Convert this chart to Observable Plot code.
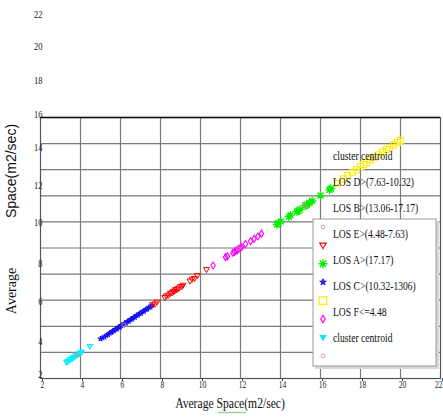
<!DOCTYPE html>
<html><head><meta charset="utf-8">
<script src="https://cdn.jsdelivr.net/npm/d3@7"></script>
<script src="https://cdn.jsdelivr.net/npm/@observablehq/plot@0.6"></script>
<style>
body{margin:0;background:#fff}
#chart{position:relative;width:443px;height:418px}
</style>
</head><body><div id="chart"></div>
<script>
// ---- data ----
const xDomain = [2, 22];
const yDomain = [2, 22];
const xTicks = [2, 4, 6, 8, 10, 12, 14, 16, 18, 20];
const xLastTick = [22];
const gridTicks = [4, 6, 8, 10, 12, 14, 16, 18, 20];
const yTickLabels = ["22", "20", "18", "16", "14", "12", "10", "8", "6", "4", "2"];
const yTickAt = [29.89, 27.44, 24.84, 22.23, 19.70, 16.79, 13.95, 10.81, 7.90, 4.84, 2.31];

const cyanX = [3.3, 3.35, 3.42, 3.48, 3.55, 3.6, 3.65, 3.7, 3.76, 3.82, 3.88, 3.94, 4.0, 4.06, 4.47];
const cyanY = [3.24, 3.3, 3.36, 3.44, 3.5, 3.56, 3.6, 3.66, 3.72, 3.78, 3.84, 3.9, 3.96, 4.02, 4.46];
const blueX = [5.0, 5.1, 5.2, 5.3, 5.38, 5.46, 5.54, 5.6, 5.68, 5.75, 5.82, 5.9, 5.97, 6.04, 6.12, 6.2, 6.27, 6.34, 6.42, 6.5, 6.57, 6.64, 6.72, 6.8, 6.88, 6.95, 7.03, 7.1, 7.18, 7.26, 7.34, 7.42, 7.5, 7.58];
const blueY = [5.04, 5.12, 5.18, 5.3, 5.36, 5.48, 5.52, 5.62, 5.66, 5.77, 5.8, 5.92, 5.95, 6.06, 6.1, 6.22, 6.25, 6.36, 6.4, 6.52, 6.55, 6.66, 6.7, 6.82, 6.86, 6.97, 7.01, 7.12, 7.16, 7.28, 7.32, 7.44, 7.48, 7.6];
const redX = [7.6, 7.72, 7.82, 8.22, 8.3, 8.4, 8.5, 8.58, 8.65, 8.7, 8.76, 8.82, 8.88, 8.94, 9.0, 9.06, 9.12, 9.48, 9.58, 9.7, 9.84, 10.3];
const redY = [7.64, 7.7, 7.84, 8.2, 8.32, 8.38, 8.52, 8.56, 8.66, 8.68, 8.8, 8.8, 8.9, 8.92, 9.02, 9.04, 9.14, 9.46, 9.6, 9.66, 9.88, 10.34];
const magentaX = [10.63, 11.25, 11.35, 11.62, 11.7, 11.78, 11.85, 11.92, 12.0, 12.05, 12.25, 12.5, 12.68, 12.87, 13.05];
const magentaY = [10.66, 11.3, 11.36, 11.64, 11.7, 11.8, 11.84, 11.94, 12.0, 12.08, 12.3, 12.52, 12.7, 12.88, 13.1];
const greenX = [13.82, 13.9, 14.02, 14.42, 14.5, 14.82, 14.9, 14.98, 15.22, 15.3, 15.45, 15.58, 16.0, 16.45, 16.52];
const greenY = [13.8, 13.92, 14.04, 14.4, 14.52, 14.8, 14.84, 14.96, 15.24, 15.3, 15.44, 15.6, 16.02, 16.46, 16.56];
const yellowX = [16.85, 17.15, 17.35, 17.6, 17.8, 18.0, 18.15, 18.3, 18.5, 18.7, 18.9, 19.1, 19.3, 19.45, 19.65, 19.85, 20.0];
const yellowY = [16.95, 17.3, 17.55, 17.8, 18.0, 18.25, 18.4, 18.55, 18.75, 18.95, 19.15, 19.35, 19.55, 19.7, 19.9, 20.1, 20.25];
const centroidX = [3.83, 6.17, 8.95, 11.9, 15.2, 18.58];
const centroidY = [3.82, 6.11, 8.97, 11.95, 15.25, 18.83];

const legendLabels = ["cluster centroid", "LOS D>(7.63-10.32)", "LOS B>(13.06-17.17)", "LOS E>(4.48-7.63)",
  "LOS A>(17.17)", "LOS C>(10.32-1306)", "LOS F<=4.48", "cluster centroid"];

// ---- symbols (MATLAB-like markers) ----
const rad = s => Math.sqrt(s / Math.PI);
const triDown = {draw(c, s) { const r = rad(s); c.moveTo(-r, -r * 0.7); c.lineTo(r, -r * 0.7); c.lineTo(0, r); c.closePath(); }};
const tallDiamond = {draw(c, s) { const r = rad(s); c.moveTo(0, -r); c.lineTo(r * 0.62, 0); c.lineTo(0, r); c.lineTo(-r * 0.62, 0); c.closePath(); }};
const star8 = {draw(c, s) { const r = rad(s), d = r * 0.72;
  c.moveTo(-r, 0); c.lineTo(r, 0); c.moveTo(0, -r); c.lineTo(0, r);
  c.moveTo(-d, -d); c.lineTo(d, d); c.moveTo(-d, d); c.lineTo(d, -d); }};
const squareSym = {draw(c, s) { const r = rad(s); c.rect(-r, -r, 2 * r, 2 * r); }};
const circleSym = {draw(c, s) { const r = rad(s); c.moveTo(r, 0); c.arc(0, 0, r, 0, 2 * Math.PI); }};
const pentagram = d3.symbolStar;

const pts = (xs, ys) => xs.map((x, i) => ({x, y: ys[i]}));
const yLabels = yTickLabels.map((label, i) => ({label, at: yTickAt[i]}));

const series = [
  {data: pts(cyanX, cyanY), symbol: triDown, r: 2.5, stroke: "#00f0ff", fill: "none", sw: 1.2},
  {data: pts(blueX, blueY), symbol: pentagram, r: 1.7, stroke: "#0000ee", fill: "#3030ff", sw: 0.7},
  {data: pts(redX, redY), symbol: triDown, r: 3.0, stroke: "#ff0000", fill: "none", sw: 1},
  {data: pts(magentaX, magentaY), symbol: tallDiamond, r: 3.5, stroke: "#ff00ff", fill: "none", sw: 1.1},
  {data: pts(greenX, greenY), symbol: star8, r: 4.2, stroke: "#00ee00", fill: "none", sw: 1.3},
  {data: pts(yellowX, yellowY), symbol: squareSym, r: 3.0, stroke: "#ffee00", fill: "none", sw: 1.1}
];

const axisStyle = {tickSize: 3, tickPadding: 0, fontSize: 9.5, stroke: "#444", fill: "#222", label: null};

const chart = Plot.plot({
  width: 443, height: 418,
  marginLeft: 40, marginRight: 3, marginTop: 117, marginBottom: 40,
  x: {domain: xDomain},
  y: {domain: yDomain, axis: null},
  style: {background: "white", fontFamily: "Liberation Serif", overflow: "visible"},
  marks: [
    Plot.gridX(gridTicks, {stroke: "#7a7a7a", strokeOpacity: 1, strokeWidth: 1.2}),
    Plot.gridY(gridTicks, {stroke: "#7a7a7a", strokeOpacity: 1, strokeWidth: 1.2}),
    Plot.frame({stroke: "#555", strokeWidth: 1.2}),
    Plot.ruleY([yDomain[1]], {stroke: "#111", strokeWidth: 1.6}),
    ...series.map(s => Plot.dot(s.data, {x: "x", y: "y", symbol: s.symbol, r: s.r, stroke: s.stroke, fill: s.fill, strokeWidth: s.sw})),
    Plot.dot(pts(centroidX, centroidY), {x: "x", y: "y", symbol: circleSym, r: 1.9, stroke: "#d9899a", fill: "none", strokeWidth: 1}),
    Plot.axisX(xTicks, {...axisStyle, dx: 2}),
    Plot.axisX(xLastTick, {...axisStyle, textAnchor: "end", dx: 2}),
    Plot.text(yLabels, {y: "at", text: "label", frameAnchor: "left", textAnchor: "end", dx: 2, fontSize: 10, fill: "#222", className: "ylab"})
  ]
});
document.getElementById("chart").appendChild(chart);

const svg = d3.select(chart);
// axis titles (narrow type of the scanned figure: horizontal scale)
svg.append("text").attr("transform", "translate(230,408) scale(0.83,1)").attr("text-anchor", "middle")
  .attr("font-family", "Liberation Serif").attr("font-size", 14).attr("fill", "#111").text("Average Space(m2/sec)");
svg.append("path").attr("d", d3.range(0, 30, 2).map((d, i) => (i ? "L" : "M") + (218 + d) + "," + (412 + (i % 2 ? 1 : 0))).join(""))
  .attr("fill", "none").attr("stroke", "#4caf50").attr("stroke-width", 0.8);
svg.append("text").attr("transform", "translate(15.5,171) rotate(-90)").attr("text-anchor", "middle")
  .attr("font-family", "Liberation Sans").attr("font-size", 14).attr("fill", "#111").text("Space(m2/sec)");
svg.append("text").attr("transform", "translate(15.5,291) rotate(-90)").attr("text-anchor", "middle")
  .attr("font-family", "Liberation Serif").attr("font-size", 14).attr("fill", "#111").text("Average");

// legend (as in the figure, labels and markers are out of step)
const lg = svg.append("g");
lg.append("rect").attr("x", 315).attr("y", 221).attr("width", 124).attr("height", 148).attr("fill", "#d8d8d8");
lg.append("rect").attr("x", 313).attr("y", 219).attr("width", 123).attr("height", 147).attr("fill", "#fff").attr("stroke", "#9a9a9a");
const legendMarkers = [
  {symbol: circleSym, r: 1.9, stroke: "#e29aa9", fill: "none", sw: 1},
  {symbol: triDown, r: 3.3, stroke: "#ff0000", fill: "none", sw: 1.1},
  {symbol: star8, r: 4.5, stroke: "#00ee00", fill: "none", sw: 1.4},
  {symbol: pentagram, r: 2.1, stroke: "#0000ee", fill: "#3030ff", sw: 0.8},
  {symbol: squareSym, r: 3.8, stroke: "#ffee00", fill: "none", sw: 1.2},
  {symbol: tallDiamond, r: 3.6, stroke: "#ff00ff", fill: "none", sw: 1.2},
  {symbol: triDown, r: 2.8, stroke: "#00e5ff", fill: "#00e5ff", sw: 1.1},
  {symbol: circleSym, r: 1.9, stroke: "#e29aa9", fill: "none", sw: 1}
];
legendMarkers.forEach((m, i) => {
  lg.append("path").attr("transform", `translate(323,${227 + i * 18.4})`)
    .attr("d", d3.symbol(m.symbol, m.r * m.r * Math.PI)())
    .attr("fill", m.fill).attr("stroke", m.stroke).attr("stroke-width", m.sw);
});
legendLabels.forEach((t, i) => {
  lg.append("text").attr("transform", `translate(333,${155 + i * 26.1}) scale(0.74,1)`).attr("dy", "0.35em")
    .attr("text-anchor", "start")
    .attr("font-family", "Liberation Serif").attr("font-size", 13).attr("fill", "#111").text(t);
});

// short tick labels: condense glyphs in place
function condense(sel, k) {
  sel.each(function () {
    const w = this.getComputedTextLength();
    this.setAttribute("textLength", (w * k).toFixed(2));
    this.setAttribute("lengthAdjust", "spacingAndGlyphs");
  });
}
condense(svg.selectAll(".ylab text"), 0.85);
condense(svg.selectAll('g[aria-label="x-axis tick label"] text'), 0.8);
</script></body></html>
